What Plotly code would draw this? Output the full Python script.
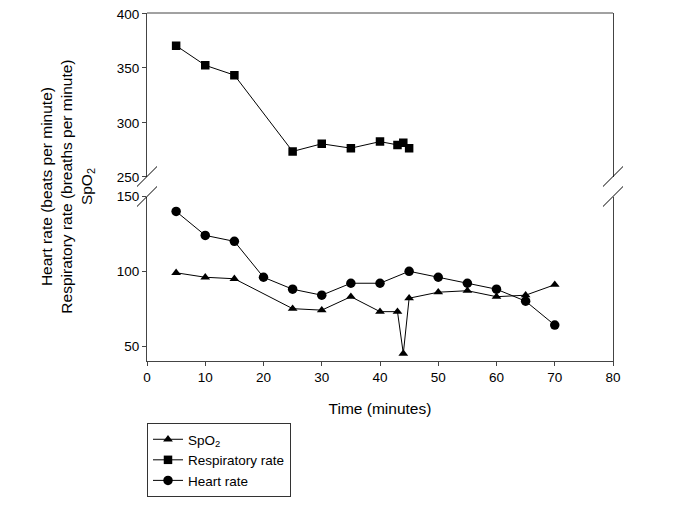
import plotly.graph_objects as go

# Data
resp_time = [5, 10, 15, 25, 30, 35, 40, 43, 44, 45]
resp_rate = [370, 352, 343, 273, 280, 276, 282, 279, 281, 276]

hr_time = [5, 10, 15, 20, 25, 30, 35, 40, 45, 50, 55, 60, 65, 70]
heart_rate = [140, 124, 120, 96, 88, 84, 92, 92, 100, 96, 92, 88, 80, 64]

spo2_time = [5, 10, 15, 25, 30, 35, 40, 43, 44, 45, 50, 55, 60, 65, 70]
spo2 = [99, 96, 95, 75, 74, 83, 73, 73, 45, 82, 86, 87, 83, 84, 91]

x_ticks = [0, 10, 20, 30, 40, 50, 60, 70, 80]
y_low_ticks = [50, 100, 150]
y_high_ticks = [250, 300, 350, 400]

FONT = "Liberation Sans, Arial, sans-serif"
AX = "#444444"

# page body has an 8px margin; work in reference-pixel coordinates minus 8
OFF = 8
FW, FH = 700 - OFF, 506 - OFF

fig = go.Figure()
fig.add_trace(go.Scatter(
    x=spo2_time, y=spo2, name="SpO<sub>2</sub>", mode="lines+markers",
    line=dict(color="black", width=1),
    marker=dict(symbol="triangle-up", size=8.5, color="black"),
    xaxis="x", yaxis="y"))
fig.add_trace(go.Scatter(
    x=resp_time, y=resp_rate, name="Respiratory rate", mode="lines+markers",
    line=dict(color="black", width=1),
    marker=dict(symbol="square", size=8.5, color="black"),
    xaxis="x", yaxis="y2"))
fig.add_trace(go.Scatter(
    x=hr_time, y=heart_rate, name="Heart rate", mode="lines+markers",
    line=dict(color="black", width=1),
    marker=dict(symbol="circle", size=9.5, color="black"),
    xaxis="x", yaxis="y"))

# plot area in reference pixels
PL, PR, PT, PB = 147.3, 613, 13, 361
L = PL - OFF
T = PT - OFF
R = FW - (PR - OFF)
B = FH - (PB - OFF)
W = PR - PL
H = PB - PT

low_top = (PB - 196.5) / H
high_bot = (PB - 176.5) / H

axis_common = dict(showgrid=False, zeroline=False, showline=True, linecolor=AX,
                   linewidth=1, ticks="outside", ticklen=4, tickcolor=AX,
                   automargin=False, ticklabeloverflow="allow",
                   tickfont=dict(family=FONT, size=13.5, color="black"))

fig.update_layout(
    width=FW, height=FH,
    margin=dict(l=L, r=R, t=T, b=B, autoexpand=False),
    paper_bgcolor="white", plot_bgcolor="white",
    font=dict(family=FONT, color="black"),
    xaxis=dict(range=[0, 80], tickvals=x_ticks, anchor="y", **axis_common,
               title=dict(text="Time (minutes)", font=dict(family=FONT, size=15.5, color="black"),
                          standoff=18)),
    yaxis=dict(domain=[0, low_top], range=[40, 150], tickvals=y_low_ticks,
               anchor="x", mirror=True, **axis_common),
    yaxis2=dict(domain=[high_bot, 1], range=[250, 400], tickvals=y_high_ticks,
                anchor="x", mirror=True, ticklabelshift=1, **axis_common),
    legend=dict(xref="container", yref="container",
                x=(147 - OFF) / FW, y=(FH - (423 - OFF)) / FH,
                xanchor="left", yanchor="top",
                bordercolor="#333333", borderwidth=1, bgcolor="white",
                font=dict(family=FONT, size=13.5, color="black"),
                tracegroupgap=0, entrywidth=146, entrywidthmode="pixels"),
    showlegend=True,
)

# top border line of upper panel
fig.add_shape(type="line", xref="paper", yref="paper", x0=0, x1=1, y0=1, y1=1,
              line=dict(color=AX, width=1))

def px2paper_x(px):
    return (px - PL) / W
def px2paper_y(py):
    return (PB - py) / H

# axis-break slashes
for xc in (PL, PR):
    for yc in (176.5, 196.5):
        fig.add_shape(type="line", xref="paper", yref="paper",
                      x0=px2paper_x(xc - 10), y0=px2paper_y(yc + 10),
                      x1=px2paper_x(xc + 10), y1=px2paper_y(yc - 10),
                      line=dict(color="black", width=1))

fig.add_annotation(
    text="Heart rate (beats per minute)<br>Respiratory rate (breaths per minute)<br>SpO<sub>2</sub>",
    xref="paper", yref="paper", x=px2paper_x(68), y=px2paper_y(187),
    xanchor="center", yanchor="middle", textangle=-90, showarrow=False,
    font=dict(family=FONT, size=15.5, color="black"))

fig.write_html("out.html")
